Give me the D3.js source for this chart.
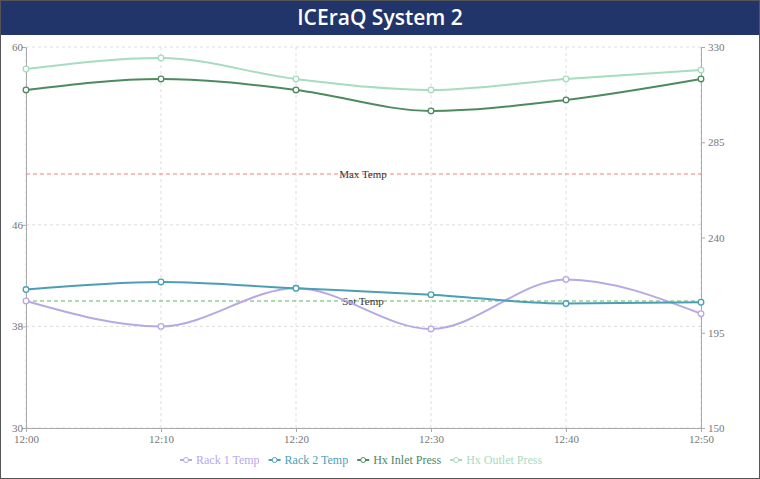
<!DOCTYPE html><html><head><meta charset="utf-8"><script src="https://cdn.jsdelivr.net/npm/d3@7"></script>
<style>body{margin:0;background:#fff}</style></head><body><svg id="c" width="760" height="479"></svg>
<script>
const times=["12:00","12:10","12:20","12:30","12:40","12:50"];
const rack1=[40,38.0,41.0,37.8,41.7,39.0];
const rack2=[40.9,41.5,41.0,40.5,39.8,39.9];
const hxInlet=[309.7,314.9,309.7,299.8,305,314.9];
const hxOutlet=[319.6,324.8,314.9,309.7,314.9,319.1];
const leftTicks=[30,38,46,60];
const rightTicks=[150,195,240,285,330];
const maxTemp=50, setTemp=40;
const svg=d3.select("#c");
svg.append("rect").attr("x",0.5).attr("y",0.5).attr("width",759).attr("height",478).attr("fill","#fff").attr("stroke","#555");
svg.append("rect").attr("x",1).attr("y",1).attr("width",758).attr("height",34).attr("fill","#22356a");
svg.append("text").attr("x",380).attr("y",25).attr("text-anchor","middle").attr("fill","#fff").attr("font-family","Open Sans, sans-serif").attr("font-weight",600).attr("font-size",21).text("ICEraQ System 2");
const x=d3.scalePoint().domain(times).range([26,701]);
const yl=d3.scaleLinear().domain([30,60]).range([428,47]);
const yr=d3.scaleLinear().domain([150,330]).range([428,47]);
const g=svg.append("g").attr("font-family","Liberation Serif, serif");
times.forEach(t=>g.append("line").attr("x1",x(t)).attr("x2",x(t)).attr("y1",47).attr("y2",428).attr("stroke","#ddd").attr("stroke-dasharray","3,3"));
leftTicks.forEach(v=>g.append("line").attr("x1",26).attr("x2",701).attr("y1",yl(v)).attr("y2",yl(v)).attr("stroke","#ddd").attr("stroke-dasharray","3,3"));
const axStyle=a=>{a.selectAll("path,line").attr("stroke","#aaa");a.selectAll("text").attr("fill","#777").attr("font-family","Liberation Serif, serif").attr("font-size",11);};
g.append("g").attr("transform","translate(26,0)").call(d3.axisLeft(yl).tickValues(leftTicks).tickSize(4).tickSizeOuter(0)).call(axStyle).selectAll("text").attr("x",-3);
g.append("g").attr("transform","translate(701,0)").call(d3.axisRight(yr).tickValues(rightTicks).tickSize(4).tickSizeOuter(0)).call(axStyle);
g.append("g").attr("transform","translate(0,428)").call(d3.axisBottom(x).tickSize(4).tickSizeOuter(0)).call(axStyle);
[[maxTemp,"#f08080","Max Temp"],[setTemp,"#5cb85c","Set Temp"]].forEach(([v,c,l])=>{
 g.append("line").attr("x1",26).attr("x2",701).attr("y1",yl(v)).attr("y2",yl(v)).attr("stroke",c).attr("stroke-dasharray","4,3").attr("stroke-width",1.2);
 g.append("text").attr("x",363).attr("y",yl(v)+4).attr("text-anchor","middle").attr("font-size",11).attr("fill","#333").text(l);
});
const series=[
 {name:"Rack 1 Temp",data:rack1,y:yl,c:"#b8a8e4"},
 {name:"Rack 2 Temp",data:rack2,y:yl,c:"#4a9fb6"},
 {name:"Hx Inlet Press",data:hxInlet,y:yr,c:"#4e8a5f"},
 {name:"Hx Outlet Press",data:hxOutlet,y:yr,c:"#a6dcc0"}];
series.forEach(s=>{
 const line=d3.line().x((d,i)=>x(times[i])).y(d=>s.y(d)).curve(d3.curveMonotoneX);
 g.append("path").attr("d",line(s.data)).attr("fill","none").attr("stroke",s.c).attr("stroke-width",2);
 g.selectAll(null).data(s.data).enter().append("circle").attr("cx",(d,i)=>x(times[i])).attr("cy",d=>s.y(d)).attr("r",2.8).attr("fill","#fff").attr("stroke",s.c).attr("stroke-width",1.3);
});
let lx=180;
series.forEach(s=>{
 const lg=g.append("g").attr("transform",`translate(${lx},460)`);
 lg.append("line").attr("x1",0).attr("x2",12).attr("stroke",s.c).attr("stroke-width",2);
 lg.append("circle").attr("cx",6).attr("r",2.5).attr("fill","#fff").attr("stroke",s.c);
 const t=lg.append("text").attr("x",16).attr("y",4).attr("font-size",12).attr("fill",s.c).text(s.name);
 lx+=16+t.node().getComputedTextLength()+9;
});
</script></body></html>
